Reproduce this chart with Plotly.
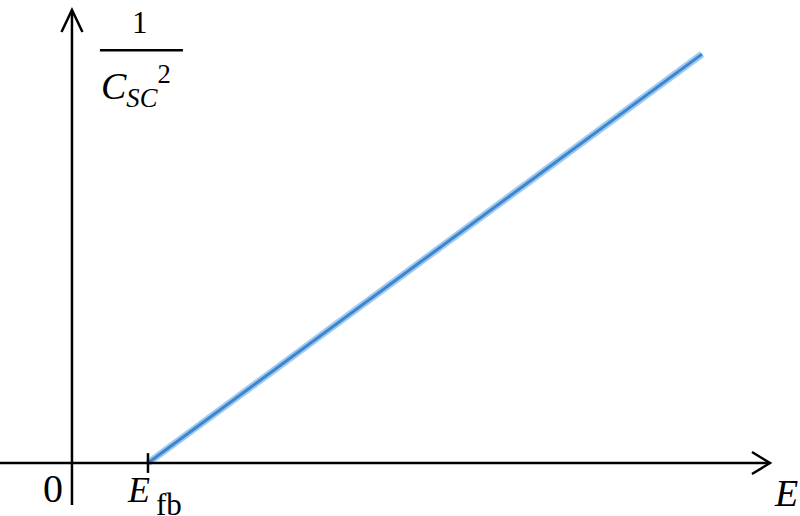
import plotly.graph_objects as go

# Mott-Schottky sketch: 1/Csc^2 versus potential E
E_fb = 1.0
E_line = [1.0, 8.29]
inv_c2_line = [0.0, 5.38]

# axis extents (data units)
x_min, x_max = -0.947, 9.579
y_min, y_max = -0.697, 6.092
x_axis_end = 9.184
y_axis_start, y_axis_end = -0.553, 5.961

serif = "Liberation Serif"

fig = go.Figure()

# soft outer glow + darker core for the blue line
fig.add_trace(go.Scatter(x=E_line, y=inv_c2_line, mode="lines",
                         line=dict(color="#9fcbef", width=7), hoverinfo="skip"))
fig.add_trace(go.Scatter(x=E_line, y=inv_c2_line, mode="lines",
                         line=dict(color="#3f84cf", width=3), hoverinfo="skip"))

axis_line = dict(color="black", width=2.5)
shapes = [
    # x axis
    dict(type="line", xref="x", yref="y", x0=x_min, x1=x_axis_end, y0=0, y1=0, line=axis_line),
    # y axis
    dict(type="line", xref="x", yref="y", x0=0, x1=0, y0=y_axis_start, y1=y_axis_end, line=axis_line),
    # arrow heads (open chevrons)
    dict(type="path", xref="x", yref="y",
         path=f"M {x_axis_end - 0.237} 0.145 L {x_axis_end} 0 L {x_axis_end - 0.237} -0.145",
         line=axis_line),
    dict(type="path", xref="x", yref="y",
         path=f"M -0.138 {y_axis_end - 0.29} L 0 {y_axis_end} L 0.138 {y_axis_end - 0.29}",
         line=axis_line),
    # flat-band tick
    dict(type="line", xref="x", yref="y", x0=E_fb, x1=E_fb, y0=-0.13, y1=0.13, line=axis_line),
    # fraction bar
    dict(type="line", xref="x", yref="y", x0=0.368, x1=1.46, y0=5.43, y1=5.43,
         line=dict(color="black", width=2.5)),
]

annotations = [
    dict(x=-0.25, y=-0.34, text="0", font=dict(size=40)),
    dict(x=0.88, y=-0.36, text="<i>E</i>", font=dict(size=36)),
    dict(x=1.27, y=-0.54, text="fb", font=dict(size=31)),
    dict(x=9.39, y=-0.40, text="<i>E</i>", font=dict(size=38)),
    dict(x=0.89, y=5.79, text="1", font=dict(size=31)),
    dict(x=0.35, y=4.96, text="<i>C</i><sub><i>SC</i></sub><sup>2</sup>",
         font=dict(size=38), xanchor="left"),
]
for a in annotations:
    a.setdefault("xanchor", "center")
    a.update(xref="x", yref="y", yanchor="middle", showarrow=False)
    a["font"].update(family=serif, color="black")

fig.update_layout(
    width=800, height=516,
    margin=dict(l=0, r=0, t=0, b=0),
    paper_bgcolor="white", plot_bgcolor="white",
    showlegend=False,
    xaxis=dict(range=[x_min, x_max], visible=False),
    yaxis=dict(range=[y_min, y_max], visible=False),
    shapes=shapes,
    annotations=annotations,
)

fig.write_html("out.html", config={"displayModeBar": False},
               post_script="document.body.style.margin='0';document.body.style.overflow='hidden';")
